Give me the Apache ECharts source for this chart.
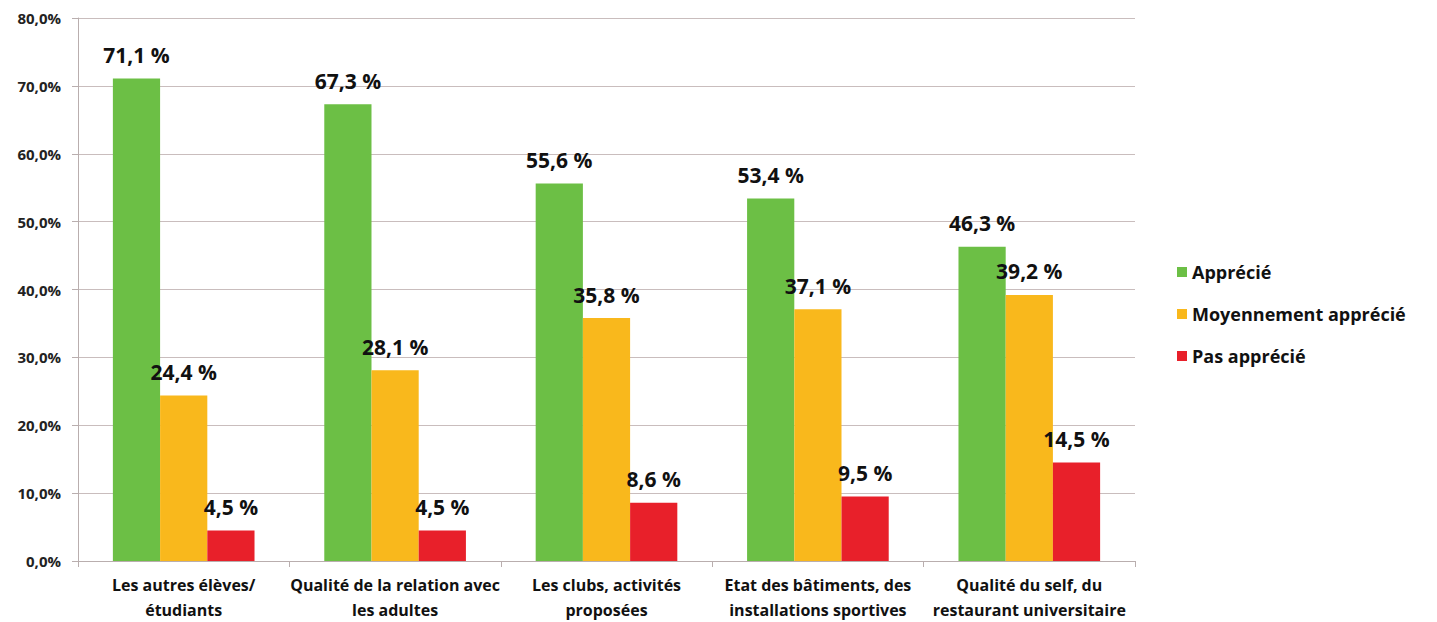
<!DOCTYPE html>
<html>
<head>
<meta charset="utf-8">
<script src="https://cdn.jsdelivr.net/npm/echarts@6/dist/echarts.min.js"></script>
<style>
  html, body { margin: 0; padding: 0; background: #fff; }
  #chart { width: 1437px; height: 622px; }
</style>
</head>
<body>
<div id="chart"></div>
<script>
const categories = [
  'Les autres élèves/\nétudiants',
  'Qualité de la relation avec\nles adultes',
  'Les clubs, activités\nproposées',
  'Etat des bâtiments, des\ninstallations sportives',
  'Qualité du self, du\nrestaurant universitaire',
];
const apprecie = [71.1, 67.3, 55.6, 53.4, 46.3];
const moyen = [24.4, 28.1, 35.8, 37.1, 39.2];
const pasApprecie = [4.5, 4.5, 8.6, 9.5, 14.5];
const seriesNames = ['Apprécié', 'Moyennement apprécié', 'Pas apprécié'];
const colors = ['#6cbf45', '#f9b81c', '#e8202a'];

const chart = echarts.init(document.getElementById('chart'), null, { renderer: 'svg' });
const font = 'Open Sans, Lato, sans-serif';
const fmtPct = v => v.toFixed(1).replace('.', ',') + ' %';

const mkSeries = (name, data, color) => ({
  name,
  type: 'bar',
  data,
  barGap: '0%',
  barCategoryGap: '33%',
  itemStyle: { color },
  label: {
    show: true,
    position: 'top',
    distance: 13,
    formatter: p => fmtPct(p.value),
    fontFamily: font,
    fontWeight: 'bold',
    fontSize: 21,
    color: '#111',
  },
});

chart.setOption({
  animation: false,
  color: colors,
  grid: { left: 78, right: 302, top: 18, bottom: 61, containLabel: false },
  legend: {
    orient: 'vertical',
    left: 1172,
    top: 256,
    itemGap: 20,
    itemWidth: 10,
    itemHeight: 10,
    icon: 'rect',
    textStyle: { fontFamily: font, fontWeight: 'bold', fontSize: 18, color: '#111', lineHeight: 22 },
    data: seriesNames,
  },
  xAxis: {
    type: 'category',
    data: categories,
    axisLine: { lineStyle: { color: '#b9aeae' } },
    axisTick: { show: true, length: 6, lineStyle: { color: '#b9aeae' } },
    axisLabel: {
      fontFamily: font,
      fontWeight: 'bold',
      fontSize: 16,
      color: '#111',
      lineHeight: 25,
      margin: 11,
      interval: 0,
    },
  },
  yAxis: {
    type: 'value',
    min: 0,
    max: 80,
    interval: 10,
    axisLine: { show: true, lineStyle: { color: '#b9aeae' } },
    axisTick: { show: true, length: 6, lineStyle: { color: '#b9aeae' } },
    splitLine: { lineStyle: { color: '#c9bdbd', width: 1.2 } },
    axisLabel: {
      formatter: v => v.toFixed(1).replace('.', ',') + '%',
      fontFamily: font,
      fontWeight: 'bold',
      fontSize: 15,
      color: '#222',
      margin: 17,
    },
  },
  series: [
    mkSeries(seriesNames[0], apprecie, colors[0]),
    mkSeries(seriesNames[1], moyen, colors[1]),
    mkSeries(seriesNames[2], pasApprecie, colors[2]),
  ],
});
</script>
</body>
</html>
